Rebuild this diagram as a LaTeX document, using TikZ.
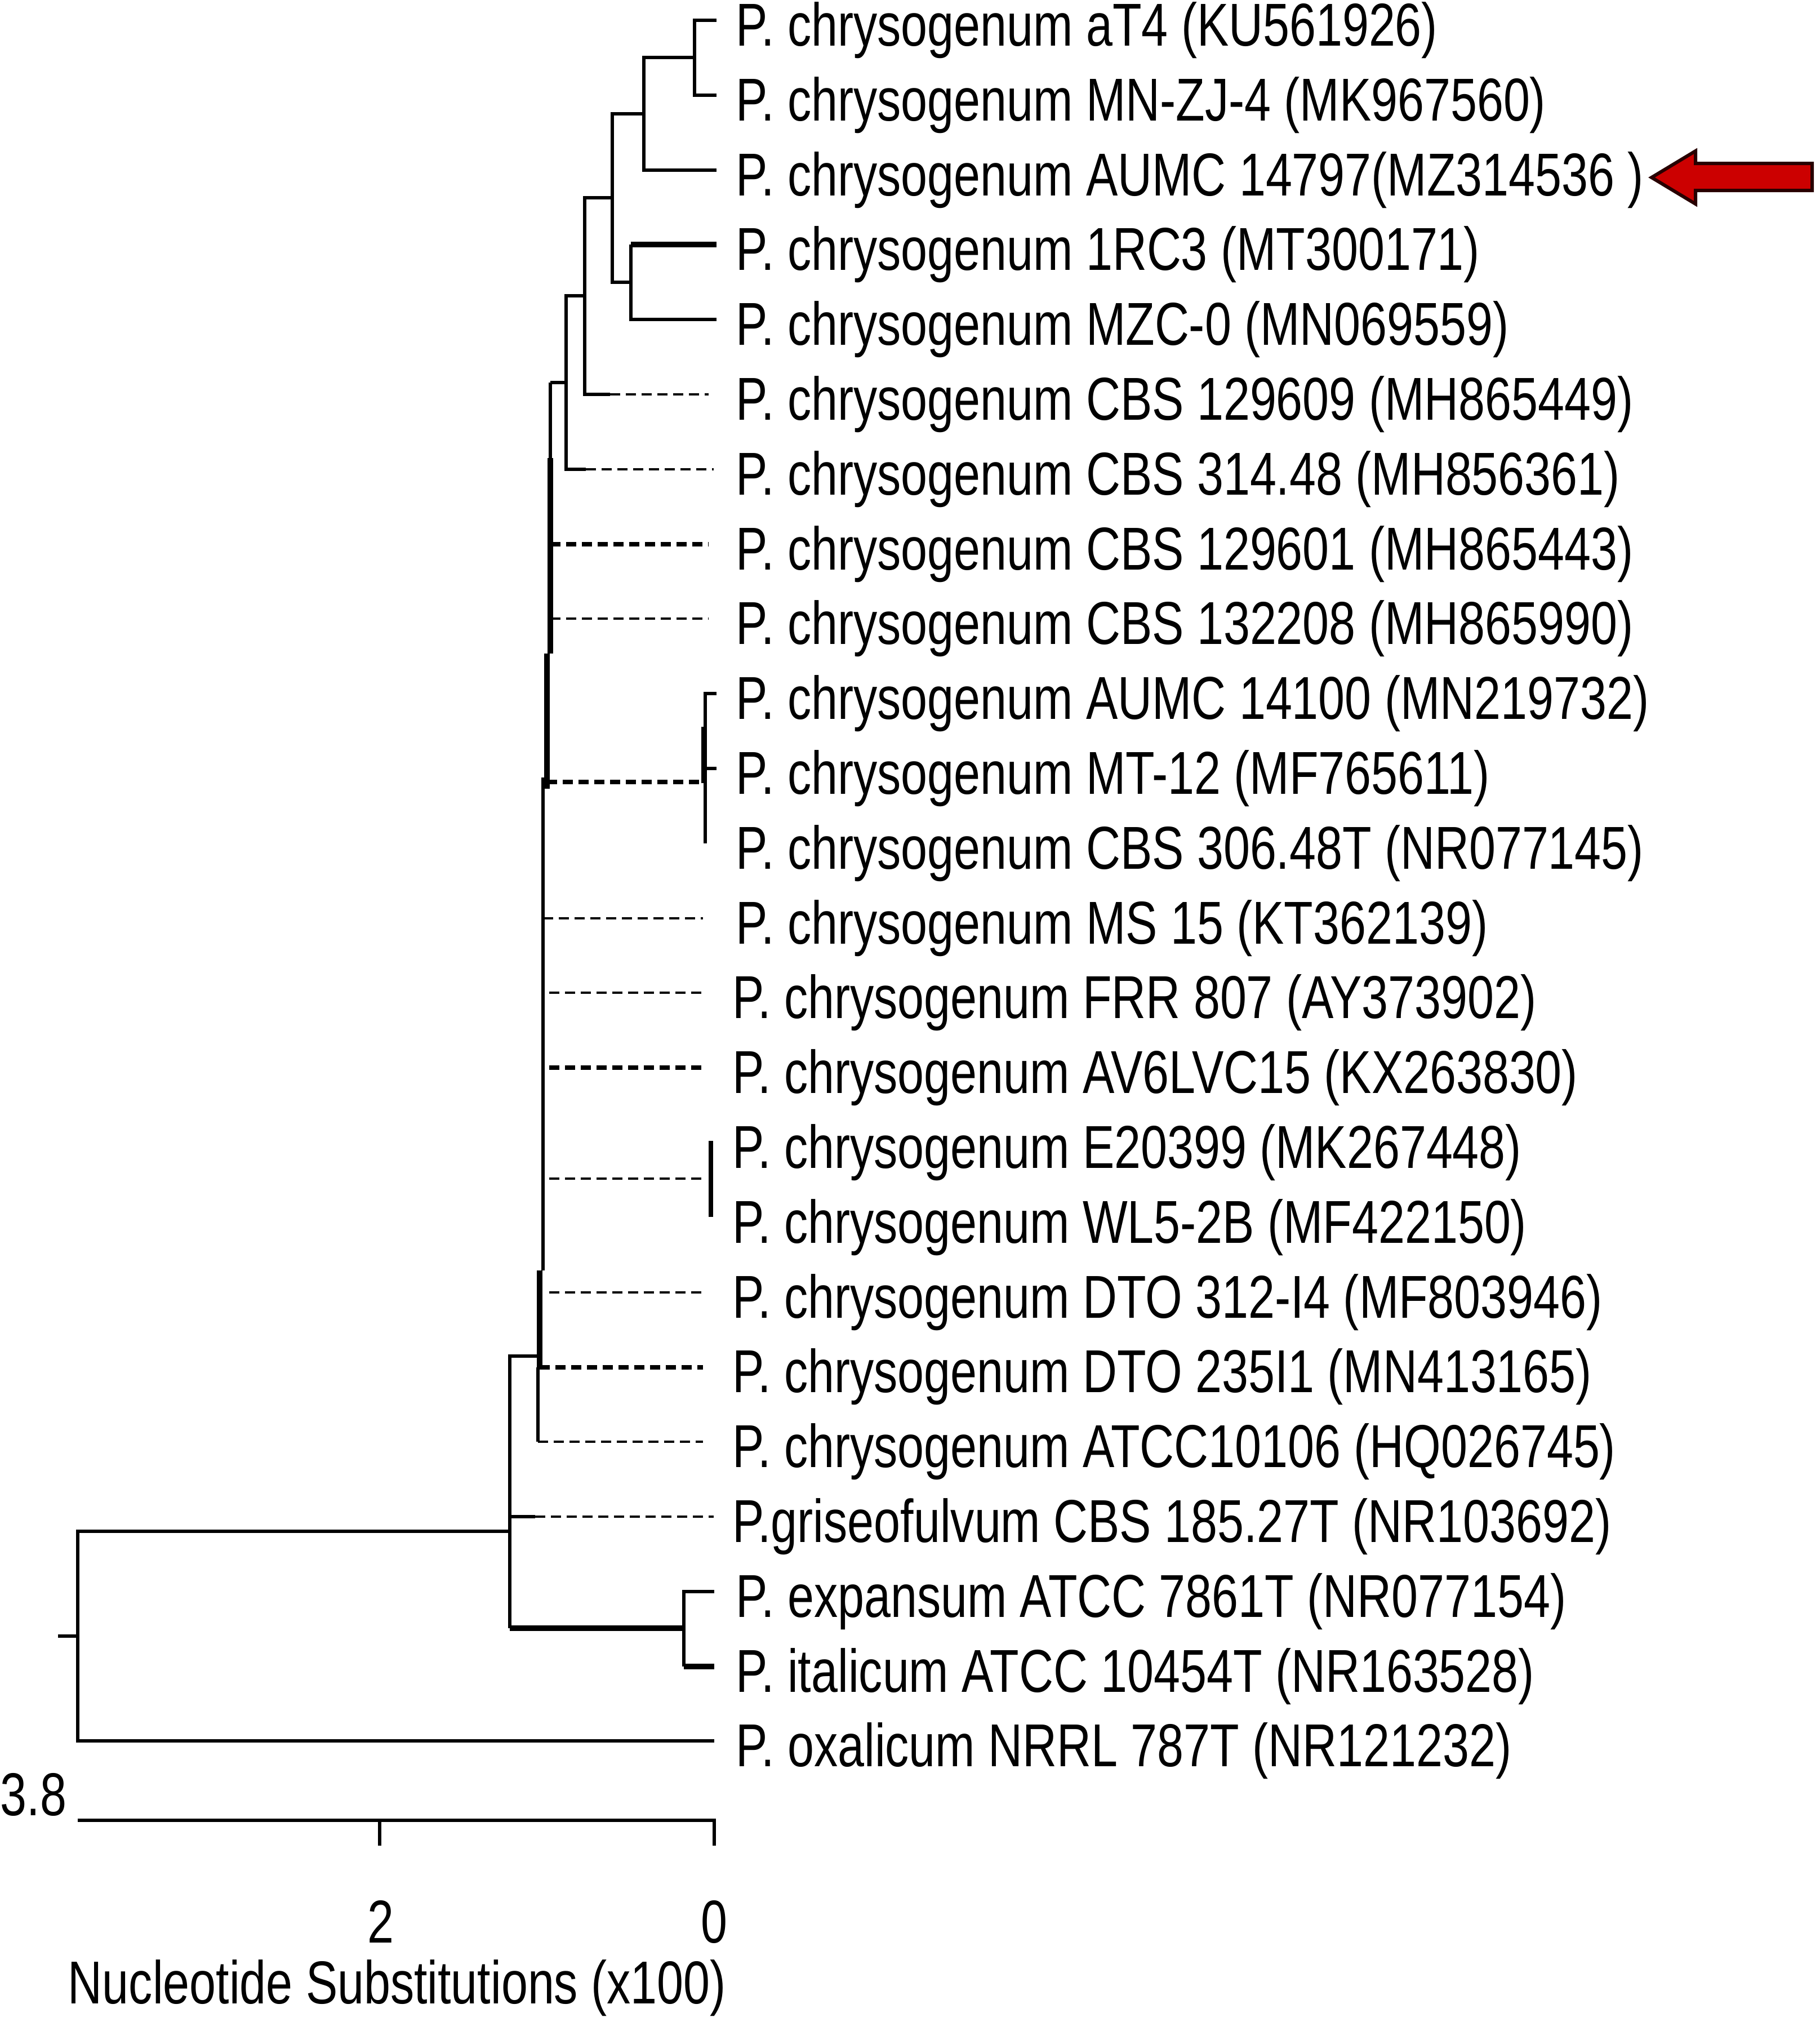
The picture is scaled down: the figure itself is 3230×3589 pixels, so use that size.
\documentclass[tikz,border=0pt]{standalone}
\usepackage{fontspec}
\newfontfamily\leaffont[FakeStretch=0.785]{Liberation Sans}
\begin{document}
\begin{tikzpicture}[x=0.2pt,y=-0.2pt,
  br/.style={line width=1.2pt},
  thk/.style={line width=2pt},
  dsh/.style={line width=0.9pt, dash pattern=on 3.6pt off 2pt},
  dshk/.style={line width=1.5pt, dash pattern=on 3.6pt off 2pt},
  lbl/.style={anchor=base west, inner sep=0pt, font={\leaffont\fontsize{21.5}{24}\selectfont}},
  axl/.style={anchor=base, inner sep=0pt, font={\leaffont\fontsize{21.5}{24}\selectfont}},
  arrowfill/.style={fill={rgb,255:red,204;green,0;blue,0}, draw={rgb,255:red,40;green,0;blue,0}, line width=1.2pt, line join=miter}
]
\useasboundingbox (0,0) rectangle (3230,3589);
\fill[white] (0,0) rectangle (3230,3589);

% leaf labels
\node[lbl] (t1) at (1305,81) {P. chrysogenum aT4 (KU561926)};
\node[lbl] (t2) at (1305,214) {P. chrysogenum MN-ZJ-4 (MK967560)};
\node[lbl] (t3) at (1305,347) {P. chrysogenum AUMC 14797(MZ314536 )};
\node[lbl] (t4) at (1305,479) {P. chrysogenum 1RC3 (MT300171)};
\node[lbl] (t5) at (1305,612) {P. chrysogenum MZC-0 (MN069559)};
\node[lbl] (t6) at (1305,745) {P. chrysogenum CBS 129609 (MH865449)};
\node[lbl] (t7) at (1305,878) {P. chrysogenum CBS 314.48 (MH856361)};
\node[lbl] (t8) at (1305,1011) {P. chrysogenum CBS 129601 (MH865443)};
\node[lbl] (t9) at (1305,1143) {P. chrysogenum CBS 132208 (MH865990)};
\node[lbl] (t10) at (1305,1276) {P. chrysogenum AUMC 14100 (MN219732)};
\node[lbl] (t11) at (1305,1409) {P. chrysogenum MT-12 (MF765611)};
\node[lbl] (t12) at (1305,1542) {P. chrysogenum CBS 306.48T (NR077145)};
\node[lbl] (t13) at (1305,1675) {P. chrysogenum MS 15 (KT362139)};
\node[lbl] (t14) at (1299,1807) {P. chrysogenum FRR 807 (AY373902)};
\node[lbl] (t15) at (1299,1940) {P. chrysogenum AV6LVC15 (KX263830)};
\node[lbl] (t16) at (1299,2073) {P. chrysogenum E20399 (MK267448)};
\node[lbl] (t17) at (1299,2206) {P. chrysogenum WL5-2B (MF422150)};
\node[lbl] (t18) at (1299,2339) {P. chrysogenum DTO 312-I4 (MF803946)};
\node[lbl] (t19) at (1299,2471) {P. chrysogenum DTO 235I1 (MN413165)};
\node[lbl] (t20) at (1299,2604) {P. chrysogenum ATCC10106 (HQ026745)};
\node[lbl] (t21) at (1299,2737) {P.griseofulvum CBS 185.27T (NR103692)};
\node[lbl] (t22) at (1305,2870) {P. expansum ATCC 7861T (NR077154)};
\node[lbl] (t23) at (1305,3003) {P. italicum ATCC 10454T (NR163528)};
\node[lbl] (t24) at (1305,3135) {P. oxalicum NRRL 787T (NR121232)};

% upper clade (leaves 1-7)
\draw[br] (1272,36) -| (1233,169) -- (1272,169);
\draw[br] (1233,102) -| (1143,302) -- (1272,302);
\draw[thk] (1272,434) -- (1120,434);
\draw[br] (1120,434) -- (1120,567) -- (1272,567);
\draw[br] (1143,202) -| (1087,501) -- (1120,501);
\draw[br] (1087,351) -| (1038,700) -- (1083,700);
\draw[dsh] (1083,700) -- (1258,700);
\draw[br] (1038,525) -| (1005,833) -- (1040,833);
\draw[dsh] (1040,833) -- (1267,833);
\draw[br] (1005,679) -- (977,679);

% spine of the P. chrysogenum clade
\draw[br] (977,679) -- (977,813);
\draw[thk] (977,813) -- (977,1160);
\draw[thk] (971,1160) -- (971,1400);
\draw[br] (964,1380) -- (964,2255);
\draw[thk] (958,2255) -- (958,2427);
\draw[br] (955,2427) -- (955,2559);

% dashed leaves
\draw[dshk] (977,966) -- (1258,966);
\draw[dsh] (977,1098) -- (1258,1098);
\draw[dshk] (971,1388) -- (1248,1388);
\draw[br] (1272,1231) -| (1252,1497);
\draw[thk] (1250,1290) -- (1250,1390);
\draw[br] (1252,1364) -- (1272,1364);
\draw[dsh] (964,1630) -- (1248,1630);
\draw[dsh] (975,1762) -- (1248,1762);
\draw[dshk] (975,1895) -- (1248,1895);
\draw[line width=1.5pt] (1262,2025) -- (1262,2160);
\draw[dsh] (975,2092) -- (1245,2092);
\draw[dsh] (975,2294) -- (1248,2294);
\draw[dshk] (958,2427) -- (1248,2427);
\draw[dsh] (955,2559) -- (1248,2559);

% lower part
\draw[br] (955,2407) -- (905,2407) -- (905,2890);
\draw[br] (905,2692) -- (950,2692);
\draw[dsh] (950,2692) -- (1267,2692);
\draw[thk] (905,2890) -- (1214,2890);
\draw[br] (1268,2825) -| (1214,2958);
\draw[thk] (1214,2958) -- (1268,2958);
\draw[br] (905,2718) -| (138,3090) -- (1268,3090);
\draw[br] (103,2904) -- (138,2904);

% scale bar
\draw[br] (138,3231) -- (1268,3231) -- (1268,3276);
\draw[br] (674,3231) -- (674,3276);
\node[axl, anchor=base east] (s38) at (119,3222) {3.8};
\node[axl] (s2) at (676,3448) {2};
\node[axl] (s0) at (1268,3448) {0};
\node[axl] (title) at (705,3556) {Nucleotide Substitutions (x100)};

% red arrow
\draw[arrowfill] (2932,315) -- (3010,268) -- (3010,290) -- (3217,290) -- (3217,338) -- (3010,338) -- (3010,362) -- cycle;
\end{tikzpicture}
\end{document}
